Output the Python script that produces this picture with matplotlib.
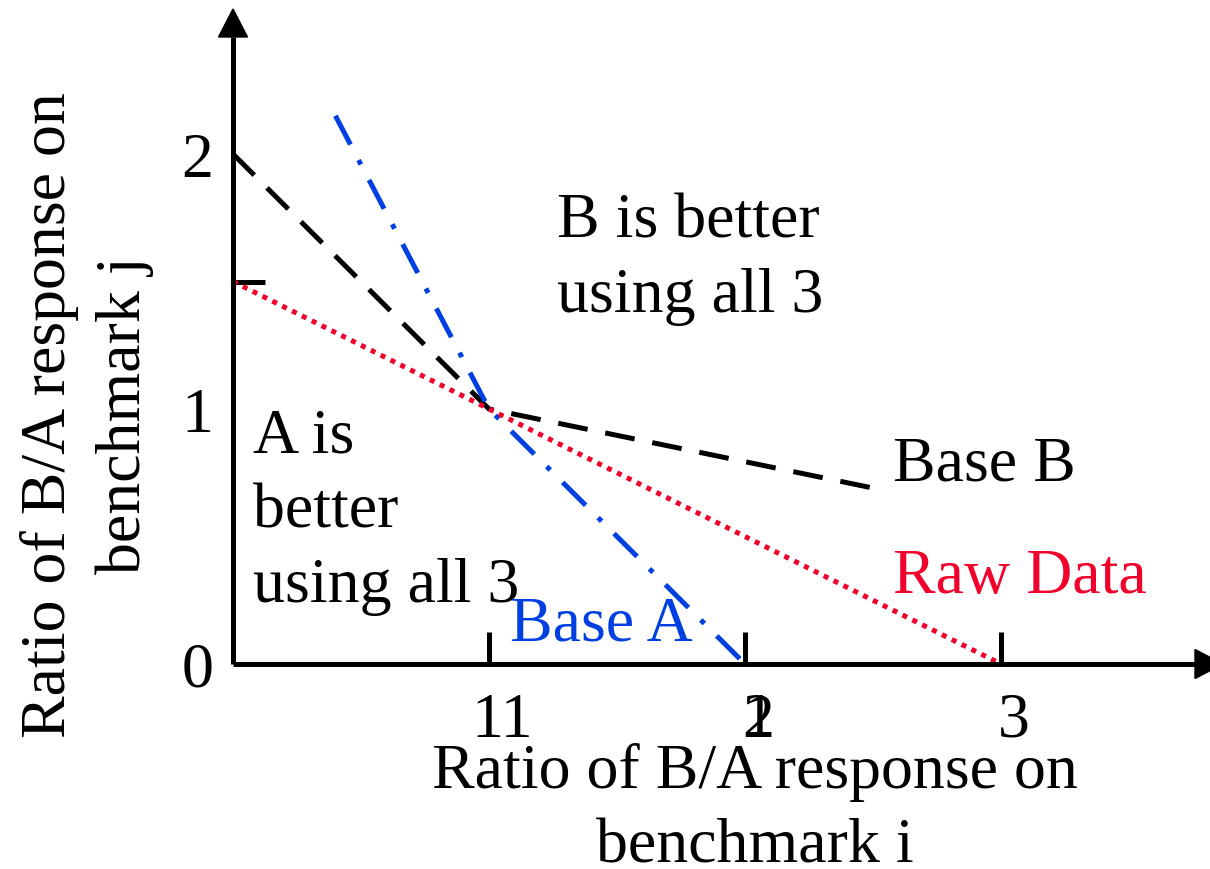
import matplotlib
matplotlib.use("Agg")
import matplotlib.pyplot as plt
from matplotlib.patches import Polygon
from matplotlib.transforms import ScaledTranslation

plt.rcParams['font.family'] = ['Liberation Serif', 'DejaVu Serif']

# data
base_b_x = [0, 1, 2.5]
base_b_y = [2.0, 1.0, 0.69]
base_a_x = [0.4, 1, 2]
base_a_y = [2.15, 1.0, 0.0]
raw_x = [0, 3]
raw_y = [1.5, 0]
xtick_vals = [1, 2, 3]
xtick_labels = ["11", "2", "3"]
ytick_vals = [0, 1, 2]
ytick_labels = ["0", "1", "2"]
ytick_marks = [1, 1.5]

FS = 46
LS = 1.38
BLACK = 'black'
RED = '#f0002a'
BLUE = '#0040e0'

W, H = 1210, 870
fig = plt.figure(figsize=(W / 100, H / 100), dpi=100)
x0, y0 = 233, 665            # pixel position of origin
ppu_x, ppu_y = 256.0, 255.0  # pixels per unit
right_px, top_px = 1195, 38
ax = fig.add_axes([x0 / W, (H - y0) / H, (right_px - x0) / W, (y0 - top_px) / H])
ax.set_xlim(0, (right_px - x0) / ppu_x)
ax.set_ylim(0, (y0 - top_px) / ppu_y)
for s in ax.spines.values():
    s.set_visible(False)

lw = 3.6
# axis lines
ax.plot([0, ax.get_xlim()[1]], [0, 0], color='black', lw=lw, clip_on=False, solid_capstyle='butt', zorder=5)
ax.plot([0, 0], [0, ax.get_ylim()[1]], color='black', lw=lw, clip_on=False, solid_capstyle='butt', zorder=5)
# arrow heads
xm, ym = ax.get_xlim()[1], ax.get_ylim()[1]
hx = 28 / ppu_x; hw_x = 14.5 / ppu_y
ax.add_patch(Polygon([[xm, -hw_x], [xm, hw_x], [xm + hx, 0]], closed=True, color='black', clip_on=False, zorder=5))
hy = 28 / ppu_y; hw_y = 14.5 / ppu_x
ax.add_patch(Polygon([[-hw_y, ym], [hw_y, ym], [0, ym + hy]], closed=True, color='black', clip_on=False, zorder=5))

# series
ax.plot(base_b_x, base_b_y, color=BLACK, lw=3.6, dashes=(6, 3.6), clip_on=False)
ax.plot(base_a_x, base_a_y, color=BLUE, lw=3.6, dashes=(6.5, 3.5, 1, 3.5), clip_on=False)
ax.plot(raw_x, raw_y, color=RED, lw=3.6, dashes=(1, 1.2), clip_on=False)

# ticks
ax.set_xticks(xtick_vals, xtick_labels)
ax.tick_params(axis='x', direction='in', length=23, width=lw, pad=20, labelsize=FS)
ax.set_yticks(ytick_vals, ytick_labels)
ax.tick_params(axis='y', which='major', length=0, pad=14, labelsize=FS)
ax.set_yticks(ytick_marks, minor=True)
ax.tick_params(axis='y', which='minor', direction='in', length=23, width=lw)
off = ScaledTranslation(13 / 100, 0, fig.dpi_scale_trans)
for lab in ax.get_xticklabels():
    lab.set_transform(lab.get_transform() + off)
# overlapping "1" at tick 2
ax.text(2, 0, "1", fontsize=FS, ha='center', va='top',
        transform=ax.transData + ScaledTranslation(13 / 100, -(20 / 72), fig.dpi_scale_trans))

# annotations (va='baseline' aligns the last line's baseline)
ax.text(1.266, 1.384, "B is better\nusing all 3", fontsize=FS, va='baseline', ha='left', linespacing=LS)
ax.text(0.078, 0.247, "A is\nbetter\nusing all 3", fontsize=FS, va='baseline', ha='left', linespacing=LS)
ax.text(2.578, 0.722, "Base B", fontsize=FS, color=BLACK, va='baseline')
ax.text(2.578, 0.282, "Raw Data", fontsize=FS, color=RED, va='baseline')
ax.text(1.082, 0.098, "Base A", fontsize=FS, color=BLUE, va='baseline')

# axis labels
fig.text(755 / W, 1 - 863 / H, "Ratio of B/A response on\nbenchmark i", fontsize=FS,
         ha='center', va='baseline', linespacing=LS)
fig.text(87 / W, 1 - 415 / H, "Ratio of B/A response on\nbenchmark j", fontsize=FS,
         ha='center', va='center', rotation=90, linespacing=LS, multialignment='center')

fig.savefig("out.png", dpi=100)
